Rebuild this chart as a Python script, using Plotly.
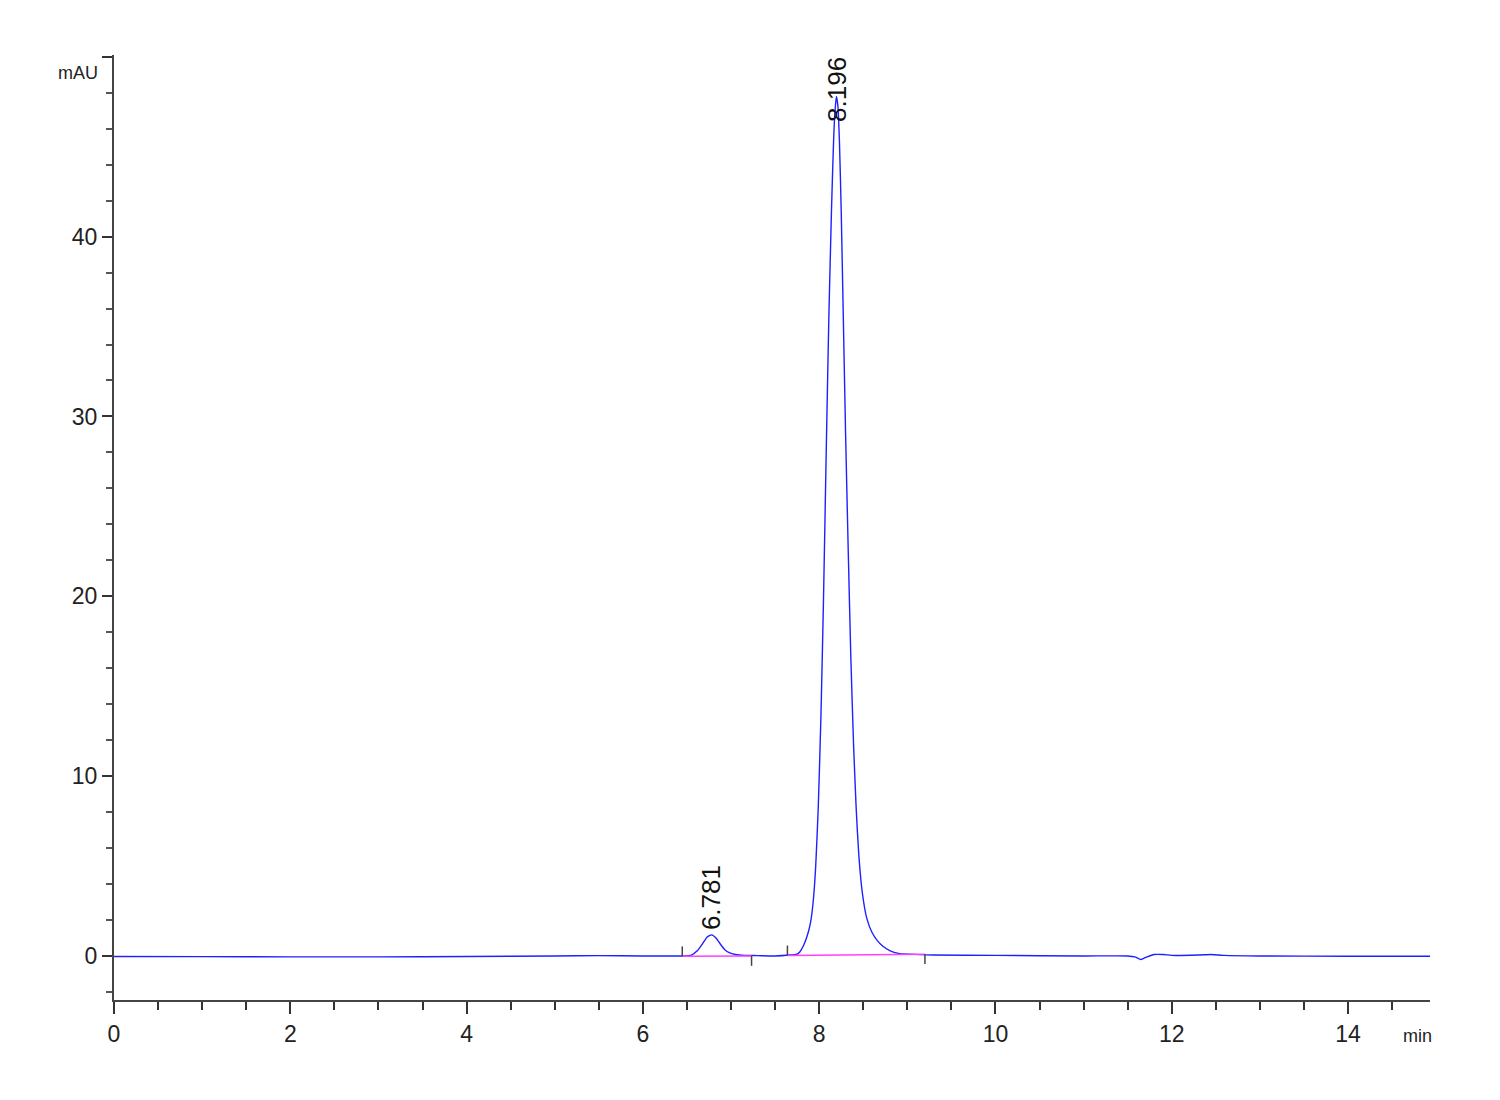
import plotly.graph_objects as go

# chromatogram signal (time in min, absorbance in mAU)
time_min = [
    0.0, 1.0, 2.0, 3.0, 4.0, 5.0, 5.5, 6.0, 6.3, 6.45,
    6.55, 6.62, 6.68, 6.73, 6.781, 6.83, 6.88, 6.93, 6.98, 7.05, 7.15,
    7.3, 7.5, 7.68, 7.74, 7.78, 7.82, 7.86, 7.90, 7.93, 7.96, 7.99, 8.02,
    8.05, 8.08, 8.11, 8.14, 8.165, 8.18, 8.196, 8.212, 8.23, 8.25, 8.27,
    8.30, 8.33, 8.36, 8.39, 8.42, 8.45, 8.49, 8.54, 8.60, 8.66, 8.72,
    8.80, 8.90, 9.3, 10.0, 11.0, 11.5, 11.58, 11.65, 11.72, 11.8, 11.9,
    12.0, 12.3, 12.45, 12.6, 13.0, 14.0, 15.0,
]
signal_mau = [
    -0.03, -0.04, -0.05, -0.05, -0.03, 0.0, 0.02, 0.0, 0.0, 0.0,
    0.05, 0.3, 0.7, 1.05, 1.17, 1.0, 0.65, 0.35, 0.18, 0.08, 0.03,
    0.02, 0.0, 0.05, 0.08, 0.22, 0.55, 1.05, 1.8, 2.9, 4.9, 8.3, 13.3,
    20.0, 28.0, 35.5, 41.5, 45.5, 47.0, 47.8, 47.3, 45.3, 41.5, 36.5,
    29.0, 22.5, 16.5, 11.8, 8.2, 5.6, 3.5, 2.1, 1.3, 0.85, 0.55,
    0.3, 0.14, 0.05, 0.03, 0.0, 0.0, -0.05, -0.2, -0.05, 0.08, 0.08,
    0.03, 0.05, 0.08, 0.03, 0.0, -0.02, -0.02,
]

# integrated peaks
peak_rt = [6.781, 8.196]
peak_height = [1.17, 47.8]
int_start = [6.447, 7.64]
int_end = [7.233, 9.20]
int_start_level = [-0.02, 0.03]
int_end_level = [0.0, 0.1]

x_range = [0, 14.93]
y_range = [-2.45, 50.1]

fig = go.Figure()

fig.add_trace(go.Scatter(
    x=time_min, y=signal_mau, mode="lines",
    line=dict(color="#2020ff", width=1.4, shape="spline", smoothing=0.5),
    hoverinfo="skip", showlegend=False,
))

# integration baselines + start/end tick marks
tick_len = 0.55
for s, e, ls, le in zip(int_start, int_end, int_start_level, int_end_level):
    fig.add_trace(go.Scatter(
        x=[s, e], y=[ls, le], mode="lines",
        line=dict(color="#ff40ff", width=1.5), hoverinfo="skip", showlegend=False,
    ))
    fig.add_shape(type="line", x0=s, x1=s, y0=ls, y1=ls + tick_len,
                  line=dict(color="#444444", width=1.5))
    fig.add_shape(type="line", x0=e, x1=e, y0=le, y1=le - tick_len,
                  line=dict(color="#444444", width=1.5))

# retention time labels
label_font = dict(family="Liberation Sans, Arial, sans-serif", size=26, color="#111111")
for rt, h in zip(peak_rt, peak_height):
    if h + 4 > y_range[1]:
        fig.add_annotation(x=rt, y=1, yref="paper", yanchor="top", xanchor="center",
                           text=f"{rt:.3f}", textangle=-90, showarrow=False, font=label_font)
    else:
        fig.add_annotation(x=rt, y=h, yanchor="bottom", xanchor="center", yshift=3,
                           text=f"{rt:.3f}", textangle=-90, showarrow=False, font=label_font)

axis_font = dict(family="Liberation Sans, Arial, sans-serif", size=23, color="#222222")
unit_font = dict(family="Liberation Sans, Arial, sans-serif", size=18, color="#222222")

fig.add_annotation(x=0, xref="paper", y=50, xanchor="right", yanchor="top",
                   xshift=-14, yshift=-4, text="mAU", showarrow=False, font=unit_font)
fig.add_annotation(x=1, xref="paper", y=0, yref="paper", xanchor="right", yanchor="top",
                   xshift=4, yshift=-24, text="min", showarrow=False, font=unit_font)

fig.update_xaxes(
    range=x_range, tickvals=[0, 2, 4, 6, 8, 10, 12, 14],
    ticks="outside", ticklen=12, tickwidth=1.5, tickcolor="#333333",
    minor=dict(dtick=0.5, ticks="outside", ticklen=8, tickwidth=1.5, tickcolor="#333333"),
    showline=True, linecolor="#444444", linewidth=2,
    showgrid=False, zeroline=False, tickfont=axis_font,
)
fig.update_yaxes(
    range=y_range, tickvals=[0, 10, 20, 30, 40, 50], ticktext=["0", "10", "20", "30", "40", ""],
    ticks="outside", ticklen=10, tickwidth=1.5, tickcolor="#333333",
    minor=dict(dtick=2, ticks="outside", ticklen=6, tickwidth=1.5, tickcolor="#555555"),
    showline=True, linecolor="#444444", linewidth=2,
    showgrid=False, zeroline=False, tickfont=axis_font,
)

# page body adds an 8px margin, so the figure is sized to fit inside the window
fig.update_layout(
    width=1484, height=1084,
    margin=dict(l=106, r=62, t=47, b=92),
    plot_bgcolor="white", paper_bgcolor="white",
    showlegend=False,
)

fig.write_html("out.html")
